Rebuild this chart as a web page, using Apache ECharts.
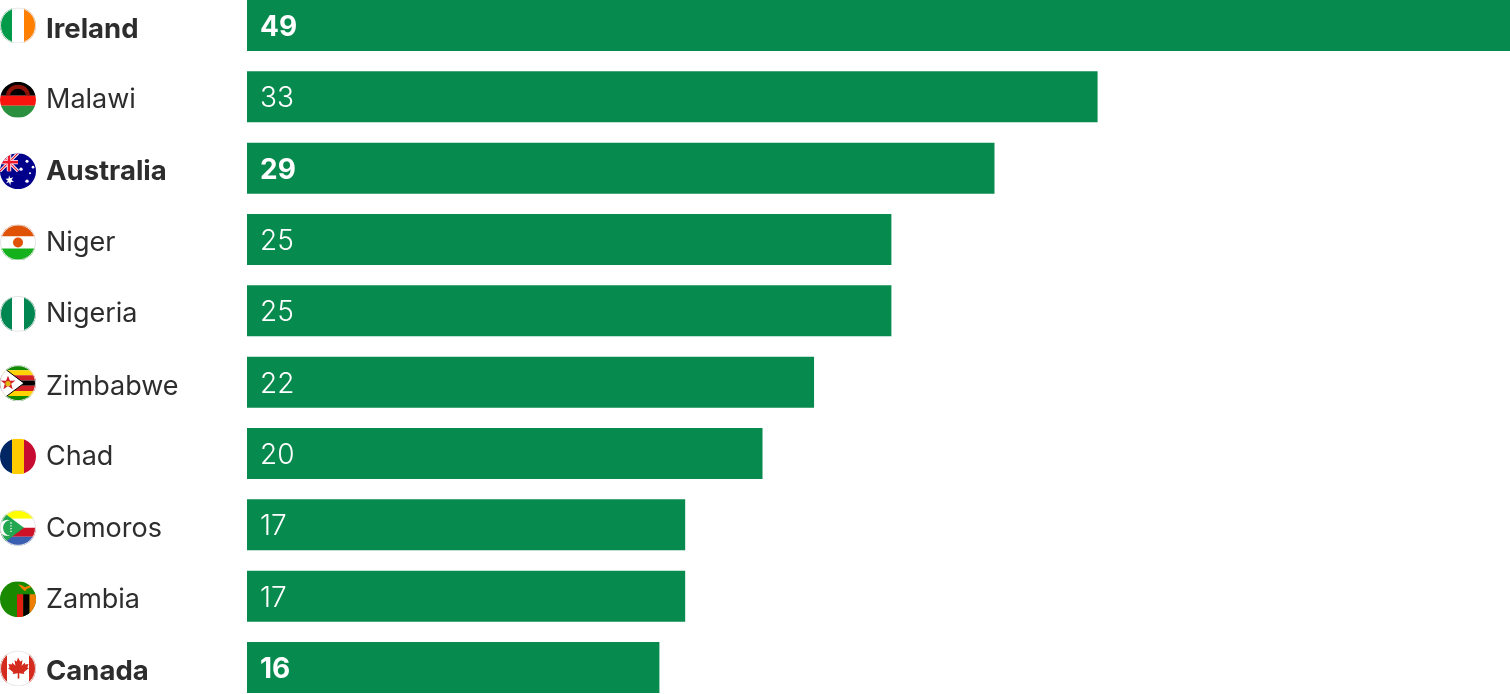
<!DOCTYPE html>
<html><head><meta charset="utf-8">
<style>html,body{margin:0;padding:0;background:#fff}#c{width:1510px;height:694px}</style>
<script src="https://cdn.jsdelivr.net/npm/echarts@6/dist/echarts.min.js"></script>
</head><body><div id="c"></div>
<script>
const countries = ['Ireland','Malawi','Australia','Niger','Nigeria','Zimbabwe','Chad','Comoros','Zambia','Canada'];
const values = [49,33,29,25,25,22,20,17,17,16];
const highlighted = ['Ireland','Australia','Canada'];
// row-level label fine tuning (px below the bar centre): flag and country name
const flagNudge = [0,3,3,3,3,1,3,3,3,1];
const textNudge = [2,1,2,1,1,3,1,2,2,2];

const flagArt = {
  Ireland:'<rect width="12" height="36" fill="#009a49"/><rect x="12" width="12" height="36" fill="#fff"/><rect x="24" width="12" height="36" fill="#ff7f00"/>',
  Malawi:'<rect width="36" height="14" fill="#000"/><path d="M6 14a12 11 0 0 1 24 0h-4a8 7 0 0 0-16 0z" fill="#8f1208"/><rect y="14" width="36" height="10" fill="#f9140e"/><rect y="24" width="36" height="12" fill="#2a8f3f"/>',
  Australia:'<rect width="36" height="36" fill="#00008b"/><path d="M0 0l18 18M18 0L0 18" stroke="#fff" stroke-width="3"/><path d="M0 0l18 18M18 0L0 18" stroke="#f0162e" stroke-width="1.2"/><path d="M9 0v18M0 9h18" stroke="#fff" stroke-width="4.4"/><path d="M9 0v18M0 9h18" stroke="#f0162e" stroke-width="2.6"/><path d="M9 22l1.200 3 3-.8-1.700 2.600 2.500 1.900-3.100.2-.7 3.100-1.200-2.900-3 .9 1.900-2.400-2.400-2 3.100-.2z" fill="#fff"/><circle cx="27" cy="8" r="1.500" fill="#fff"/><circle cx="33" cy="14" r="1.300" fill="#fff"/><circle cx="21" cy="16" r="1.700" fill="#fff"/><circle cx="30" cy="20" r="1" fill="#fff"/><circle cx="27" cy="28" r="1.700" fill="#fff"/>',
  Niger:'<rect width="36" height="12" fill="#e05206"/><rect y="12" width="36" height="12" fill="#fff"/><rect y="24" width="36" height="12" fill="#14b11d"/><circle cx="18" cy="18" r="5" fill="#e05206"/>',
  Nigeria:'<rect width="12" height="36" fill="#008751"/><rect x="12" width="12" height="36" fill="#fff"/><rect x="24" width="12" height="36" fill="#008751"/>',
  Zimbabwe:'<rect width="36" height="36" fill="#fff"/><rect width="36" height="5.100" fill="#118a00"/><rect y="5.100" width="36" height="5.100" fill="#ffd200"/><rect y="10.200" width="36" height="5.100" fill="#d21f26"/><rect y="15.300" width="36" height="5.400" fill="#000"/><rect y="20.700" width="36" height="5.100" fill="#d21f26"/><rect y="25.800" width="36" height="5.100" fill="#ffd200"/><rect y="30.900" width="36" height="5.100" fill="#118a00"/><path d="M0 0L24 18L0 36z" fill="#fff" stroke="#000" stroke-width="1"/><path d="M8 10.500l2 5 5.500-.2-4.300 3.400 1.500 5.300-4.700-3.100-4.600 3.100 1.400-5.300-4.300-3.400 5.500.2z" fill="#d21f26"/><circle cx="8" cy="18.500" r="2.600" fill="#e3b70f"/>',
  Chad:'<rect width="12" height="36" fill="#002664"/><rect x="12" width="12" height="36" fill="#fecb00"/><rect x="24" width="12" height="36" fill="#c60c30"/>',
  Comoros:'<rect width="36" height="9" fill="#ffff00"/><rect y="9" width="36" height="9" fill="#fff"/><rect y="18" width="36" height="9" fill="#ce1126"/><rect y="27" width="36" height="9" fill="#3a5fb0"/><path d="M0 0L24 18L0 36z" fill="#22a650"/><path d="M10 10.500a8 8 0 1 0 0 15a6.300 6.800 0 1 1 0-15z" fill="#fff"/><path d="M11 12.500v11" stroke="#fff" stroke-width="1.300" stroke-dasharray="1.300 1.500"/>',
  Zambia:'<rect width="36" height="36" fill="#198a00"/><rect x="17" y="13" width="6.300" height="23" fill="#de2010"/><rect x="23.300" y="13" width="6.300" height="23" fill="#000"/><rect x="29.600" y="13" width="6.400" height="23" fill="#ef7d00"/><path d="M18 3q5 1 7 3q3-2 8-2q-3 3-6 3.500l-2 2.500q-4-3-7-7z" fill="#ef7d00"/>',
  Canada:'<rect width="36" height="36" fill="#fff"/><rect width="7" height="36" fill="#d52b1e"/><rect x="29" width="7" height="36" fill="#d52b1e"/><path d="M18 7l2.200 4 2.300-1.200-.9 5.400 3-3 .7 1.800 3.200-.6-1.100 3.500 1.400.8-5 4 .5 1.800-5.100-.8.2 5.300h-1.800l.2-5.300-5.100.8.500-1.800-5-4 1.400-.8-1.100-3.500 3.200.6.700-1.800 3 3-.9-5.400 2.300 1.200z" fill="#d52b1e"/>'
};
const ringed = ['Ireland','Niger','Nigeria','Zimbabwe','Comoros','Canada'];

function flagUri(name){
  const ring = ringed.includes(name) ? '<circle cx="18" cy="18" r="17.500" fill="none" stroke="#e4e4e4" stroke-width="1"/>' : '';
  const svg = '<svg xmlns="http://www.w3.org/2000/svg" width="108" height="108" viewBox="0 0 36 36"><defs><clipPath id="c"><circle cx="18" cy="18" r="18"/></clipPath></defs><g clip-path="url(#c)">'+flagArt[name]+'</g>'+ring+'</svg>';
  return 'data:image/svg+xml;charset=utf-8,'+encodeURIComponent(svg);
}
const FONT='Inter';
const rich={};
countries.forEach((n,i)=>{
  const bold=highlighted.includes(n);
  rich['s'+i]={width:0,height:36+2*flagNudge[i]};
  rich['f'+i]={width:36,height:36,verticalAlign:'bottom',backgroundColor:{image:flagUri(n)}};
  rich['t'+i]={fontFamily:FONT,fontSize:bold?27.5:27,fontWeight:bold?700:400,color:'#2d2d2d',
    padding:[4+2*textNudge[i],0,0,10]};
});

const chart=echarts.init(document.getElementById('c'),null,{renderer:'canvas'});
chart.setOption({
  animation:false,
  backgroundColor:'#fff',
  grid:{left:247,right:0,top:-10.17,height:713.33,containLabel:false,outerBoundsMode:'none'},
  xAxis:{type:'value',min:0,max:49,show:false},
  yAxis:{type:'category',inverse:true,data:countries,
    axisLine:{show:false},axisTick:{show:false},splitLine:{show:false},
    axisLabel:{margin:247,align:'left',interval:0,
      formatter:(v,i)=>'{s'+i+'| }{f'+i+'|}{t'+i+'|'+v+'}',
      rich}},
  series:[{type:'bar',barWidth:51,
    itemStyle:{color:'#078a4e'},
    data:values.map((v,i)=>({value:v,label:{fontWeight:highlighted.includes(countries[i])?700:350}})),
    label:{show:true,position:'insideLeft',distance:13,offset:[0,2],color:'#fff',fontFamily:FONT,fontSize:28}
  }]
});
</script></body></html>
